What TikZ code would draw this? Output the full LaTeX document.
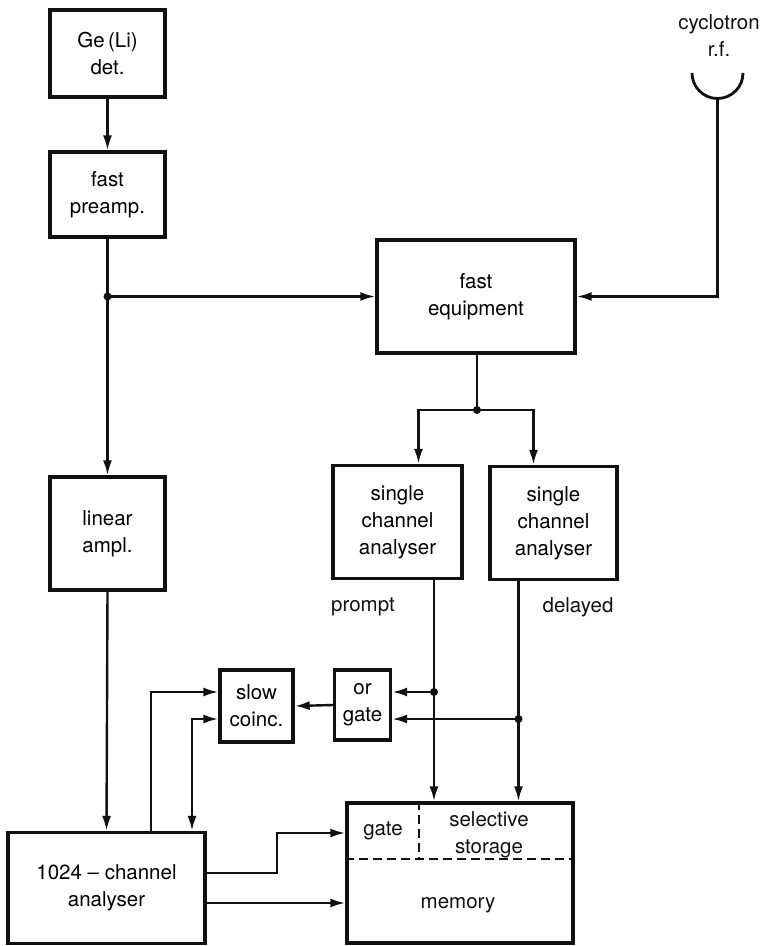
\documentclass[tikz,border=0pt]{standalone}
\usepackage{fontspec}
\setmainfont{TeX Gyre Heros}
\usetikzlibrary{arrows.meta, calc}
\definecolor{inkline}{HTML}{111111}
\newcommand\labelfont{\fontsize{20.5}{27}\selectfont}
\tikzset{
  unit/.style={rectangle, draw=inkline, line width=3.4pt, align=center,
               font=\labelfont, inner sep=2pt},
  tag/.style={font=\labelfont, text=inkline, align=center},
  wire/.style={line width=2.4pt, draw=inkline},
  flow/.style={wire, -{Latex[length=15pt, width=9pt]}},
  twoway/.style={wire, {Latex[length=15pt, width=9pt]}-{Latex[length=15pt, width=9pt]}},
  jdot/.style={circle, fill=inkline, inner sep=0pt, minimum size=8pt},
  partline/.style={draw=inkline, line width=2.6pt, dash pattern=on 9pt off 5pt},
}

\begin{document}
\begin{tikzpicture}[x=1pt, y=-1pt]
\useasboundingbox (0,0) rectangle (772,946);

% Detector chain (left column)
\node[unit, minimum width=115pt, minimum height=87pt] (det) at (107.5,53.5) {Ge\,(Li)\\det.};
\node[unit, minimum width=115pt, minimum height=85pt] (preamp) at (107.5,194.5) {fast\\preamp.};
\node[unit, minimum width=115pt, minimum height=113pt] (linamp) at (107.5,533.5) {linear\\ampl.};
\node[unit, minimum width=197pt, minimum height=111pt] (mca) at (106.5,888) {1024 -- channel\\analyser};

% Timing branch
\node[unit, minimum width=198pt, minimum height=113pt] (fast) at (476,296.5) {fast\\equipment};
\node[unit, minimum width=129pt, minimum height=113pt] (sca1) at (397.5,522) {single\\channel\\analyser};
\node[unit, minimum width=127pt, minimum height=113pt] (sca2) at (553.5,523) {single\\channel\\analyser};
\node[tag] (prompt) at (363,607) {prompt};
\node[tag] (delayed) at (578,607) {delayed};

% Cyclotron r.f. pick-up
\node[tag] (cyc) at (719,36) {cyclotron\\r.f.};
\draw[line width=2.8pt, draw=inkline] (692,73) arc[start angle=180, end angle=360, radius=25.5pt];
\coordinate (cupbot) at (717.5,98.5);

% Coincidence logic
\node[unit, minimum width=56pt, minimum height=70pt] (orgate) at (362.5,705) {or\\gate};
\node[unit, minimum width=73pt, minimum height=72pt] (slow) at (256.5,706) {slow\\coinc.};

% Memory with gated selective storage
\node[unit, minimum width=226pt, minimum height=140pt] (mem) at (460,873) {};
\draw[partline] (mem.west |- 0,859) -- (mem.east |- 0,859);
\draw[partline] (419,0 |- mem.north) -- (419,859);
\node[tag] (memgate) at (383,831) {gate};
\node[tag] (memsel) at (489,835) {selective\\storage};
\node[tag] (memory) at (458,905) {memory};

% Junctions
\coordinate (j1) at (preamp.south |- fast.west);
\coordinate (j2) at (477,410);
\coordinate (s1out) at (434,0 |- sca1.south);
\coordinate (s2out) at (518.5,0 |- sca2.south);
\coordinate (j3) at (s1out |- 0,692);
\coordinate (j4) at (s2out |- 0,719);
\coordinate (mcaup) at (151,0 |- mca.north);
\coordinate (mcadown) at (192,0 |- mca.north);
\coordinate (mcaout1) at (mca.east |- 0,873);
\coordinate (mcaout2) at (mca.east |- 0,903);
\foreach \j in {j1, j2, j3, j4} {
  \node[jdot] at (\j) {};
}

% Flow
\draw[flow] (det) -- (preamp);
\draw[wire] (preamp.south) -- (j1);
\draw[flow] (j1) -- (linamp.north);
\draw[flow] (j1) -- (fast.west);
\draw[flow] (cupbot) |- (fast.east);
\draw[wire] (fast.south -| j2) -- (j2);
\draw[flow] (j2) -| ([xshift=21pt]sca1.north);
\draw[flow] (j2) -| ([xshift=-20pt]sca2.north);
\draw[flow] (s1out) -- (s1out |- mem.north);
\draw[flow] (s2out) -- (s2out |- mem.north);
\draw[flow] (j3) -- (j3 -| orgate.east);
\draw[flow] (j4) -- (j4 -| orgate.east);
\draw[flow] (orgate.west) -- (slow.east);
\draw[flow] (linamp.south) -- (mca.north);
\draw[flow] (mcaup) |- ([yshift=14pt]slow.west);
\draw[twoway] ([yshift=-13pt]slow.west) -| (mcadown);
\draw[flow] (mcaout1) -| (277,833) -- (mem.west |- 0,833);
\draw[flow] (mcaout2) -- (mem.west |- 0,903);

\end{tikzpicture}
\end{document}
